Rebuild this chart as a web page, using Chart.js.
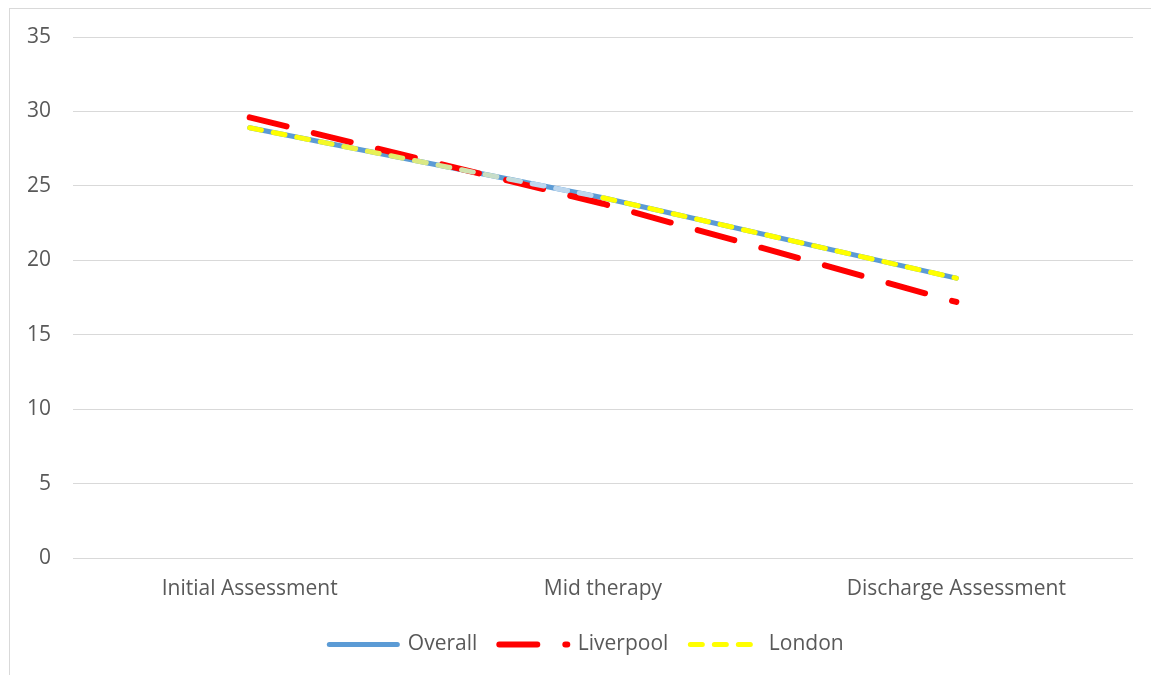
<!DOCTYPE html>
<html>
<head>
<meta charset="utf-8">
<title>Scores by stage</title>
<script src="https://cdn.jsdelivr.net/npm/chart.js@4"></script>
<style>
  html, body { margin: 0; padding: 0; background: #ffffff; overflow: hidden; }
  #frame { position: absolute; left: 9px; top: 8px; width: 1200px; height: 720px;
           border: 1px solid #d9d9d9; box-sizing: border-box; }
  #wrap { position: absolute; left: 0; top: 0; width: 1151px; height: 675px; }
</style>
</head>
<body>
<div id="frame"></div>
<div id="wrap"><canvas id="chart"></canvas></div>
<script>
// Assessment stages along the x axis
const stages = ['Initial Assessment', 'Mid therapy', 'Discharge Assessment'];

// Mean scores per stage
const overallScores   = [28.9, 24.2, 18.8];
const liverpoolScores = [29.6, 23.8, 17.2];
const londonScores    = [28.9, 24.2, 18.8];

// Value axis range
const yMin = 0;
const yMax = 35;
const yStep = 5;

const BLUE = '#5b9bd5';
const RED = '#ff0000';
const YELLOW = '#ffff00';
const PALE_BLUE = '#bdd7ee';
const TEXT = '#595959';
const GRID = '#d9d9d9';
const FONT = 'Open Sans';
const FONT_SIZE = 21;

// London's first leg fades from yellow into pale blue
function londonSegmentColor(c) {
  if (c.p0DataIndex === 0) {
    const g = c.chart.ctx.createLinearGradient(c.p0.x, 0, c.p1.x, 0);
    g.addColorStop(0.1, YELLOW);
    g.addColorStop(0.8, PALE_BLUE);
    g.addColorStop(1, PALE_BLUE);
    return g;
  }
  return YELLOW;
}

// Legend dash phase so the swatch patterns start like the lines do
const legendDashOffsets = [0, 0, 0];

// Nudges the legend row to the right and gives London a two-tone swatch
const legendTweak = {
  id: 'legendTweak',
  afterUpdate(chart) {
    const lg = chart.legend;
    if (!lg || !lg.legendItems || !lg.legendHitBoxes) return;
    lg.left += 20;
    lg.right += 20;
    lg.adjustHitBoxes();
    const box = lg.legendHitBoxes[2];
    if (!box) return;
    const cy = box.top + box.height / 2;
    const g = chart.ctx.createLinearGradient(0, cy - 3, 0, cy + 3);
    g.addColorStop(0, YELLOW);
    g.addColorStop(0.5, YELLOW);
    g.addColorStop(0.5, PALE_BLUE);
    g.addColorStop(1, PALE_BLUE);
    lg.legendItems[2].strokeStyle = g;
  }
};

new Chart(document.getElementById('chart'), {
  type: 'line',
  data: {
    labels: stages,
    datasets: [
      {
        label: 'Overall',
        data: overallScores,
        borderColor: BLUE,
        backgroundColor: BLUE,
        borderWidth: 5,
        borderCapStyle: 'round',
        pointRadius: 0,
        order: 2
      },
      {
        label: 'Liverpool',
        data: liverpoolScores,
        borderColor: RED,
        backgroundColor: RED,
        borderWidth: 6,
        borderDash: [38, 28],
        borderCapStyle: 'round',
        pointRadius: 0,
        order: 1
      },
      {
        label: 'London',
        data: londonScores,
        borderColor: YELLOW,
        backgroundColor: YELLOW,
        borderWidth: 5,
        borderDash: [12, 12],
        borderCapStyle: 'round',
        pointRadius: 0,
        order: 0,
        segment: { borderColor: londonSegmentColor }
      }
    ]
  },
  options: {
    responsive: true,
    maintainAspectRatio: false,
    animation: false,
    layout: { padding: { top: 37, right: 18, bottom: 10, left: 0 } },
    plugins: {
      tooltip: { enabled: false },
      legend: {
        position: 'bottom',
        labels: {
          color: TEXT,
          font: { family: FONT, size: FONT_SIZE },
          usePointStyle: true,
          pointStyle: 'line',
          pointStyleWidth: 68,
          padding: 22,
          sort: (a, b) => a.datasetIndex - b.datasetIndex,
          generateLabels(chart) {
            const items = Chart.defaults.plugins.legend.labels.generateLabels(chart);
            items.forEach(it => {
              const ds = chart.data.datasets[it.datasetIndex];
              it.lineDash = ds.borderDash || [];
              it.lineDashOffset = legendDashOffsets[it.datasetIndex];
              it.lineWidth = ds.borderWidth;
              it.strokeStyle = ds.borderColor;
              it.lineCap = 'round';
            });
            return items;
          }
        }
      }
    },
    scales: {
      x: {
        offset: true,
        grid: { display: false, drawTicks: false },
        border: { display: false },
        ticks: { color: TEXT, font: { family: FONT, size: FONT_SIZE }, padding: 18 },
        afterFit(s) { s.height = 54; }
      },
      y: {
        min: yMin,
        max: yMax,
        ticks: { stepSize: yStep, color: TEXT, font: { family: FONT, size: FONT_SIZE }, padding: 22 },
        grid: { color: GRID, lineWidth: 1, drawTicks: false },
        border: { display: false },
        afterFit(s) { s.width = 73; }
      }
    }
  },
  plugins: [legendTweak]
});
</script>
</body>
</html>
